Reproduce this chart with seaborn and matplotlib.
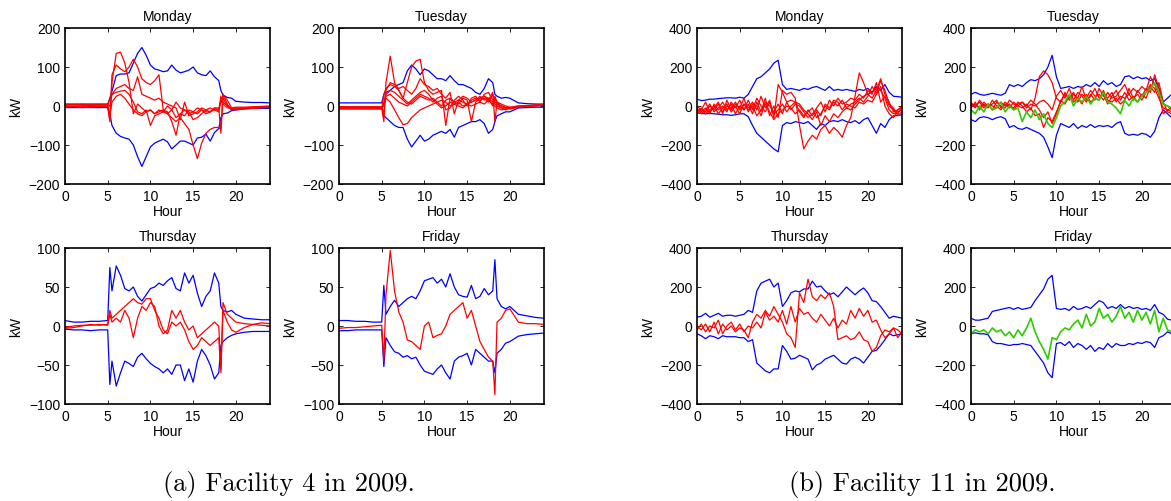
import matplotlib
matplotlib.use("Agg")
from matplotlib import pyplot as plt
import seaborn as sns

sns.set_style("white")
plt.rcParams['font.family'] = ['Liberation Sans', 'DejaVu Sans']
plt.rcParams.update({
    'text.color': 'black', 'axes.labelcolor': 'black',
    'xtick.color': 'black', 'ytick.color': 'black',
    'axes.edgecolor': 'black', 'axes.linewidth': 1.2,
    'xtick.direction': 'in', 'ytick.direction': 'in',
    'xtick.top': True, 'ytick.right': True,
    'xtick.bottom': True, 'ytick.left': True,
    'xtick.major.size': 3, 'ytick.major.size': 3,
    'xtick.major.width': 0.6, 'ytick.major.width': 0.6,
    'font.size': 10,
})

# ---------------- hours ----------------
# facility 4 is sampled finer around the switch-on / switch-off spikes
H4 = [0, 1, 2, 3, 4, 5, 5.25, 5.5,
      6, 6.5, 7, 7.5, 8, 8.5, 9, 9.5, 10, 10.5, 11, 11.5,
      12, 12.5, 13, 13.5, 14, 14.5, 15, 15.5, 16, 16.5, 17, 17.5, 18,
      18.25, 18.5, 19, 19.5, 20, 21, 22, 23, 24]
H11 = [0, 0.5, 1, 1.5, 2, 2.5, 3, 3.5, 4, 4.5, 5, 5.5,
       6, 6.5, 7, 7.5, 8, 8.5, 9, 9.5, 10, 10.5, 11, 11.5,
       12, 12.5, 13, 13.5, 14, 14.5, 15, 15.5, 16, 16.5, 17, 17.5,
       18, 18.5, 19, 19.5, 20, 20.5, 21, 21.5, 22, 22.5, 23, 23.5, 24]

# ---------------- Facility 4, Monday ----------------
F4_MON_HI = [5, 5, 5, 5, 5, 5, 20, 38,
             78, 82, 82, 85, 110, 135, 150, 130, 105, 95, 92, 88,
             90, 105, 92, 85, 88, 92, 100, 85, 80, 78, 90, 75, 65,
             40, 28, 22, 20, 12, 10, 9, 9, 8]
F4_MON_LO = [-4, -4, -4, -4, -4, -4, -20, -50,
             -70, -78, -82, -85, -100, -130, -155, -130, -105, -95, -90, -85,
             -92, -110, -100, -90, -90, -95, -100, -82, -80, -72, -90, -68, -58,
             -30, -20, -18, -12, -10, -7, -6, -6, -6]
F4_MON_RED = [
    [2, 3, 2, 3, 2, 3, -40, 60,
     135, 138, 110, 60, -20, 5, -5, -15, -10, -20, -10, -15,
     -20, -10, -30, -20, -25, -10, -15, -20, -10, -15, -15, -10, -10,
     25, 10, 0, -5, -8, -5, -5, -3, -2],
    [-3, -2, -4, -3, -2, -3, -35, 80,
     105, 95, 88, 100, 120, 100, 70, 60, 55, 65, 80, -10,
     -15, -40, -75, -20, -10, -20, -15, -5, -10, -20, -15, -5, -5,
     -70, 30, 5, -10, -8, -6, -6, -4, -2],
    [0, -1, 0, 1, 0, 0, 20, 30,
     35, 38, 40, 30, 10, -15, -20, -10, -50, -25, -20, -15,
     0, -10, 10, -5, -10, -15, -35, -30, -20, -10, -15, -5, -10,
     10, 20, 0, -10, -5, -5, -3, -2, -1],
    [4, 3, 4, 3, 4, 3, 0, 30,
     45, 50, 55, 45, 40, 75, 30, 25, 20, 15, 20, 10,
     5, 0, -5, -35, 10, -25, -20, -15, -5, -10, -5, -10, -15,
     15, 5, -5, -5, -3, -3, -2, -1, 0],
    [-2, -1, -2, -1, -2, -1, -25, 10,
     25, 30, 20, 5, -10, -20, -25, -15, -10, -20, -15, -10,
     -20, -30, -40, -30, -45, -60, -100, -135, -95, -70, -60, -55, -55,
     -60, 30, 15, -5, -10, -8, -6, -4, -3],
]

# ---------------- Facility 4, Tuesday ----------------
F4_TUE_HI = [8, 8, 8, 8, 8, 8, 30, 35,
             40, 50, 55, 60, 90, 105, 95, 80, 95, 90, 80, 70,
             70, 65, 78, 65, 55, 55, 50, 45, 35, 30, 45, 70, 60,
             30, 25, 20, 22, 20, 8, 6, 5, 5]
F4_TUE_LO = [-3, -3, -3, -3, -3, -3, -25, -30,
             -40, -50, -55, -55, -85, -105, -90, -75, -90, -85, -75, -70,
             -65, -70, -60, -80, -55, -50, -45, -40, -40, -35, -45, -70, -60,
             -40, -25, -20, -15, -15, -5, -4, -3, -3]
F4_TUE_RED = [
    [-5, -5, -5, -5, -5, -5, -40, 60,
     128, 60, 40, 20, 10, 5, 15, 25, 20, 15, 20, 10,
     0, 15, 20, 10, 15, 10, 5, 15, 20, 15, 20, 10, 30,
     10, 5, -5, -10, -5, 0, 1, 2, 3],
    [-8, -8, -8, -8, -8, -8, 30, 45,
     55, 50, 40, 20, 60, 100, 115, 120, 60, 40, 30, 35,
     40, -50, 20, 10, 5, 20, 15, -40, 10, 20, 25, 15, 35,
     -40, 10, 0, -5, -8, -3, 0, 2, 4],
    [-4, -4, -4, -4, -4, -4, 0, 20,
     10, -10, -30, -48, -45, -30, -20, -10, -5, 0, 5, 10,
     15, 10, 0, 5, 10, 0, 5, 10, 15, 20, 25, 20, 10,
     20, 5, 0, -3, -5, -2, 0, 1, 2],
    [-2, -2, -2, -2, -2, -2, -20, 40,
     60, 55, 45, 50, 40, 30, 45, 70, 55, 50, 40, 45,
     30, 20, 35, -20, 15, 25, 20, 10, 15, 25, 15, 20, 0,
     25, 10, 5, 0, -3, 0, 1, 2, 3],
    [-6, -6, -6, -6, -6, -6, 10, 30,
     40, 35, 25, 15, 5, 15, 25, 35, 40, 30, 15, 5,
     -5, 0, 10, 5, 0, -5, 5, 0, 5, 10, 5, 15, 5,
     0, -5, -10, -8, -6, -3, -1, 0, 2],
    [-3, -3, -3, -3, -3, -3, 5, 25,
     30, 20, 10, 5, 0, 10, 20, 30, 25, 20, 10, 20,
     25, -10, -5, 15, 25, 15, 0, 20, 25, 10, 30, 35, 15,
     5, 0, -5, -5, -4, -2, 0, 1, 2],
]

# ---------------- Facility 4, Thursday ----------------
F4_THU_HI = [7, 5, 5, 6, 6, 7, 75, 45,
             77, 65, 48, 45, 50, 38, 32, 40, 48, 50, 55, 52,
             58, 62, 48, 45, 68, 55, 65, 42, 25, 38, 45, 68, 55,
             25, 20, 18, 20, 15, 10, 9, 8, 8]
F4_THU_LO = [-4, -5, -5, -6, -5, -5, -75, -45,
             -77, -60, -45, -48, -52, -40, -35, -42, -48, -52, -55, -60,
             -55, -62, -50, -50, -70, -55, -72, -45, -30, -38, -50, -68, -60,
             -25, -20, -15, -12, -10, -8, -7, -7, -7]
F4_THU_RED = [
    [-3, -2, 0, 2, 1, 2, 20, 10,
     15, 20, 25, 30, 35, 30, 28, 35, 35, 20, 10, -5,
     -10, 5, 0, 5, -5, -20, -30, -25, -15, -20, -25, -20, -15,
     -60, 30, 15, 10, 5, 3, 2, 1, 0],
    [-2, 0, 1, 1, 2, 1, 15, 5,
     10, 5, 20, 10, -15, 10, 25, 20, 30, 25, 0, -10,
     -5, 20, 10, 20, 5, -5, 0, -15, -10, -5, 0, 5, 0,
     -55, 20, 5, -5, -8, -2, 2, 4, 3],
]

# ---------------- Facility 4, Friday ----------------
F4_FRI_HI = [7, 7, 6, 6, 5, 5, 52, 15,
             25, 33, 25, 30, 35, 38, 35, 45, 58, 60, 62, 55,
             60, 50, 67, 50, 40, 38, 37, 52, 35, 38, 48, 40, 45,
             85, 35, 25, 22, 25, 15, 13, 11, 10]
F4_FRI_LO = [-6, -6, -5, -5, -5, -5, -52, -15,
             -25, -33, -35, -40, -38, -42, -40, -50, -58, -60, -62, -55,
             -50, -60, -68, -45, -40, -38, -35, -50, -30, -35, -40, -45, -45,
             -60, -35, -30, -22, -20, -13, -11, -10, -9]
F4_FRI_RED = [
    [-3, -2, -2, -1, 0, 1, -45, 40,
     97, 45, 18, 5, -18, -20, -25, -30, 0, 5, -15, -12,
     -10, 0, 15, 20, 25, 30, 10, 20, 0, -20, -30, -40, -45,
     -88, 5, 10, 20, 22, 5, 3, 3, 2],
]

# ---------------- Facility 11, Monday ----------------
F11_MON_HI = [35, 28, 30, 35, 35, 38, 40, 42, 42, 40, 45, 40,
              60, 100, 140, 150, 170, 190, 220, 235, 110, 85, 90, 85,
              80, 90, 85, 95, 100, 90, 80, 100, 80, 85, 80, 85,
              80, 75, 85, 80, 90, 70, 100, 80, 110, 70, 50, 48, 45]
F11_MON_LO = [-35, -38, -40, -38, -40, -42, -45, -45, -48, -45, -40, -40,
              -55, -100, -140, -160, -180, -200, -220, -235, -100, -85, -90, -80,
              -85, -90, -80, -100, -120, -90, -100, -80, -75, -80, -70, -80,
              -85, -75, -90, -70, -60, -100, -140, -90, -110, -70, -50, -48, -45]
F11_MON_RED = [
    [-20, -30, -10, -40, 10, -20, 0, -30, 20, -10, 30, -20,
     10, -40, 20, -30, 40, -50, 0, -60, 80, 60, 70, 40,
     -100, -220, -180, -150, -170, -120, -100, -140, -110, -130, -160, -100,
     -60, 50, 170, 120, 60, 40, 80, 140, 60, 20, -30, -20, -10],
    [-40, -20, -30, 0, -20, 10, -30, 0, -10, 20, -20, 10,
     -10, 20, -20, 50, -10, 30, -60, 110, 70, 20, 30, 20,
     10, -20, -40, -70, -30, -100, -50, -80, -40, -60, -30, -10,
     -20, 10, 30, 50, 60, 70, 90, 80, 40, -20, -40, -30, -20],
    [-10, -40, -20, 10, -30, -10, 20, -20, 10, -40, 0, -20,
     30, -20, 40, 0, -30, 20, -40, -20, 10, -30, 0, 20,
     -30, -60, -20, -50, -10, 20, -30, 30, 0, 40, 10, 20,
     40, 30, 60, 40, 80, 60, 120, 20, 50, 0, -20, -40, -10],
    [-30, -10, -40, -20, 0, -40, -10, 10, -30, 0, -40, 10,
     -20, 0, -50, -20, 10, -30, -70, -40, -20, 0, -10, -40,
     -20, -50, -30, -10, -60, -40, 0, -20, 20, 0, 30, -10,
     10, 20, 40, 20, 50, 100, 60, 130, 80, 10, -10, -50, -30],
    [0, -20, 20, -30, -10, 20, -40, 30, -20, 10, -10, 40,
     -30, 10, 0, -50, 20, 0, -30, 10, -40, 20, -20, 10,
     0, -30, -60, -40, -20, -50, 10, -10, 30, 20, -20, 10,
     0, -10, 20, 10, 30, 20, 60, 100, 0, -40, -60, -20, 0],
]

# ---------------- Facility 11, Tuesday ----------------
F11_TUE_HI = [60, 70, 60, 55, 60, 65, 60, 55, 65, 110, 100, 110,
              100, 120, 135, 130, 140, 160, 200, 260, 150, 90, 95, 100,
              90, 100, 95, 110, 100, 120, 100, 130, 110, 120, 100, 110,
              150, 155, 140, 150, 140, 145, 130, 140, 90, 20, 40, 60, 55]
F11_TUE_LO = [-70, -80, -60, -55, -60, -70, -60, -55, -65, -110, -100, -115,
              -120, -110, -120, -130, -140, -160, -210, -265, -150, -90, -100, -110,
              -90, -115, -100, -110, -95, -110, -100, -105, -100, -110, -90, -80,
              -140, -150, -145, -150, -140, -145, -160, -130, -60, -20, -40, -60, -55]
F11_TUE_RED = [
    [-10, 20, -20, 10, -10, 30, 0, -20, 10, -10, 20, 0,
     -10, 10, -20, 40, 150, 180, 160, 120, 40, 20, 60, 40,
     70, 20, 60, 40, 80, 50, 60, 30, 70, 40, 50, 80,
     110, 60, 90, 70, 100, 80, 150, 110, 60, -40, -20, -30, -10],
    [20, -10, 30, 0, 10, -20, 20, 0, -10, 30, 10, 0,
     20, -10, 10, 0, 20, 30, 10, -20, 50, 80, 40, 90,
     30, 70, 50, 20, 60, 30, 90, 50, 40, 70, 20, 50,
     40, 60, 30, 80, 50, 90, 70, 160, 90, 10, 0, -20, 0],
    [0, 10, -10, 20, 0, 10, 30, -10, 20, 0, -10, 20,
     0, -30, -10, -50, -40, -110, -60, -80, -30, 20, 70, 30,
     60, 40, 100, 30, 50, 90, 40, 60, 10, 50, 80, 30,
     70, 30, 50, 20, 60, 40, 100, 70, 120, 20, -30, -40, -20],
    [10, 0, 20, -10, 10, 0, -10, 20, 0, 10, -20, 10,
     20, 0, 30, 10, -20, -60, -30, -90, -40, 30, 10, 50,
     20, 40, 10, 60, 20, 40, 30, 80, 30, 20, 40, 10,
     30, 90, 40, 60, 30, 70, 110, 90, 40, -10, -20, -10, 0],
]
F11_TUE_GREEN = [-20, -40, 0, -30, 10, -20, -10, 20, -30, 0, -20, -10,
                 -80, -30, -60, -20, -70, -40, -90, -110, -60, 0, 20, 60,
                 0, 40, 20, 50, 10, 40, 30, 70, 20, 10, -10, -40,
                 30, 0, 40, 20, 50, 70, 90, 120, 70, 10, 0, -10, 0]

# ---------------- Facility 11, Thursday ----------------
F11_THU_HI = [45, 50, 65, 45, 55, 65, 50, 55, 55, 50, 55, 60,
              80, 70, 180, 220, 230, 240, 200, 220, 100, 130, 170, 180,
              175, 190, 190, 230, 200, 205, 180, 160, 170, 150, 175, 200,
              180, 160, 180, 195, 170, 130, 125, 100, 70, 40, 50, 45, 40]
F11_THU_LO = [-40, -50, -65, -50, -55, -65, -50, -55, -55, -55, -60, -60,
              -80, -70, -190, -210, -230, -240, -220, -220, -100, -130, -170, -165,
              -150, -160, -170, -225, -200, -190, -170, -160, -150, -170, -190, -195,
              -170, -160, -170, -190, -160, -130, -125, -100, -70, -40, -50, -45, -40]
F11_THU_RED = [
    [0, -20, 10, -30, 20, -40, 10, -20, 0, -30, -10, -20,
     -60, 20, 60, 40, 80, 50, 100, 60, 20, -40, -60, -110,
     170, 120, 240, 150, 130, 160, 140, 170, 100, -70, -60, -50,
     -70, -60, -30, -70, -80, -130, -110, -50, -20, -30, -10, -60, -30],
    [-20, 10, -30, 0, -10, 30, -40, 0, 20, -20, 10, -30,
     0, -10, 20, -10, 70, 30, 50, 20, 80, 10, 100, 20,
     90, 60, 70, 40, 20, 60, 30, 0, 40, -10, 30, 10,
     80, 40, 90, 50, 80, 20, 30, -20, -60, -40, -10, -20, -40],
]

# ---------------- Facility 11, Friday ----------------
F11_FRI_HI = [40, 30, 30, 35, 40, 75, 80, 85, 90, 95, 85, 95,
              85, 90, 95, 130, 160, 190, 240, 260, 90, 85, 90, 80,
              100, 85, 90, 100, 90, 110, 130, 120, 90, 100, 90, 110,
              90, 100, 90, 95, 85, 90, 80, 110, 70, 60, 35, 30, 30]
F11_FRI_LO = [-40, -35, -40, -40, -45, -80, -90, -90, -95, -100, -95, -95,
              -90, -95, -100, -130, -160, -190, -240, -265, -90, -85, -100, -80,
              -110, -90, -100, -120, -100, -130, -110, -120, -90, -110, -90, -100,
              -100, -90, -95, -85, -90, -80, -85, -110, -60, -50, -30, -40, -40]
F11_FRI_GREEN = [-40, -20, -30, -20, -40, -10, -30, -20, -50, -30, -60, -20,
                 -50, -10, 40, -30, -80, -120, -170, -60, -70, -30, -10, -20,
                 10, 30, -10, 60, 0, 20, 90, 40, 60, 20, 50, 100,
                 40, 70, 20, 80, 30, 70, 10, 80, -30, 40, -20, -30, -40]

BLUE, RED, GREEN = '#0000ff', '#ff0000', '#2ecc00'
LW = 0.9

# (left px, top px) of each panel, width 205 px, height 156 px
panels = [
    ((65, 29), 'Monday', 200, H4, F4_MON_HI, F4_MON_LO, F4_MON_RED, None),
    ((339, 29), 'Tuesday', 200, H4, F4_TUE_HI, F4_TUE_LO, F4_TUE_RED, None),
    ((65, 249), 'Thursday', 100, H4, F4_THU_HI, F4_THU_LO, F4_THU_RED, None),
    ((339, 249), 'Friday', 100, H4, F4_FRI_HI, F4_FRI_LO, F4_FRI_RED, None),
    ((697, 29), 'Monday', 400, H11, F11_MON_HI, F11_MON_LO, F11_MON_RED, None),
    ((971, 29), 'Tuesday', 400, H11, F11_TUE_HI, F11_TUE_LO, F11_TUE_RED, F11_TUE_GREEN),
    ((697, 249), 'Thursday', 400, H11, F11_THU_HI, F11_THU_LO, F11_THU_RED, None),
    ((971, 249), 'Friday', 400, H11, F11_FRI_HI, F11_FRI_LO, [], F11_FRI_GREEN),
]

W, H = 1171, 502
fig = plt.figure(figsize=(W / 100, H / 100), dpi=100)

for (px, py), title, lim, hours, hi, lo, reds, green in panels:
    ax = fig.add_axes([px / W, 1 - (py + 156) / H, 205 / W, 156 / H])
    for ys in (hi, lo):
        sns.lineplot(x=hours, y=ys, ax=ax, color=BLUE, lw=LW, estimator=None)
    for ys in reds:
        sns.lineplot(x=hours, y=ys, ax=ax, color=RED, lw=LW, estimator=None)
    if green is not None:
        sns.lineplot(x=hours, y=green, ax=ax, color=GREEN, lw=1.2, estimator=None)
    ax.set_xlim(0, 24)
    ax.set_ylim(-lim, lim)
    ax.set_xticks([0, 5, 10, 15, 20])
    ax.set_yticks([-lim, -lim / 2, 0, lim / 2, lim])
    ax.set_yticklabels([f"{int(v)}".replace('-', '\u2212') for v in ax.get_yticks()])
    ax.set_title(title, fontsize=10, pad=6)
    ax.set_xlabel('Hour', labelpad=1)
    ax.set_ylabel('kW', labelpad=4)
    for s in ax.spines.values():
        s.set_visible(True)
        s.set_color('black')

fig.text(289 / W, 1 - 485 / H, '(a) Facility 4 in 2009.', family='cmr10',
         fontsize=19, ha='center', va='center')
fig.text(922 / W, 1 - 485 / H, '(b) Facility 11 in 2009.', family='cmr10',
         fontsize=19, ha='center', va='center')

fig.savefig('out.png', dpi=100)
